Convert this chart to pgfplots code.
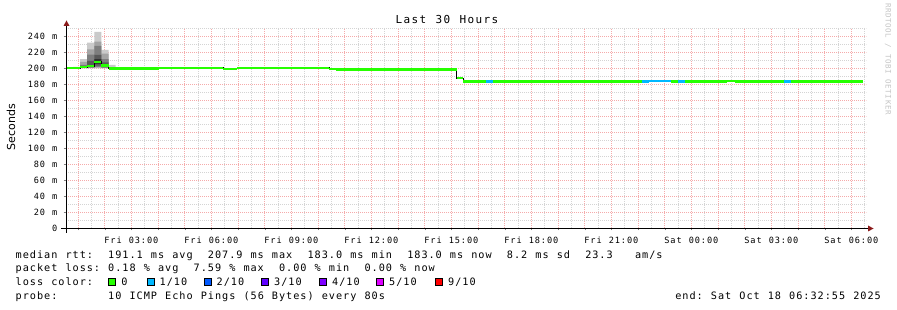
\documentclass[border=0pt]{standalone}
\usepackage{fontspec}
\usepackage{pgfplots}
\pgfplotsset{compat=1.18}
\setmainfont{DejaVu Sans}
\newfontfamily\rrdmono{DejaVu Sans Mono}
\definecolor{mgrid}{HTML}{F5ABAB}
\definecolor{mingrid}{HTML}{D4D4D4}
\definecolor{arrowred}{HTML}{8B1A1A}
\definecolor{loss0}{HTML}{26FF00}
\definecolor{loss1}{HTML}{00B8FF}
\definecolor{loss2}{HTML}{0059FF}
\definecolor{loss3}{HTML}{5E00FF}
\definecolor{loss4}{HTML}{7E00FF}
\definecolor{loss5}{HTML}{DD00FF}
\definecolor{loss9}{HTML}{FF0000}
\definecolor{smokeA}{HTML}{CACACA}
\definecolor{smokeB}{HTML}{A4A4A4}
\definecolor{smokeC}{HTML}{7E7E7E}
\definecolor{smokeD}{HTML}{585858}
\definecolor{smokeE}{HTML}{323232}
\definecolor{wmark}{HTML}{C4C4C4}
\makeatletter
\newcommand\gt[2]{\def\gt@adv{#1}\@tfor\gt@c:=#2\do{\makebox[\gt@adv][c]{\gt@c}}}
\makeatother
\newcommand\xtl[1]{{\rrdmono\fontsize{8.6bp}{10bp}\selectfont\gt{6.1bp}{#1}}}
\newcommand\legtxt[1]{{\rrdmono\fontsize{10.2bp}{12bp}\selectfont\gt{7.12bp}{#1}}}
\newcommand\lossbox[3]{%
  \filldraw[fill=#2, draw=black, line width=1bp] (#1bp+0.5bp,24.5bp) rectangle (#1bp+7.5bp,31bp);
  \node[anchor=base west, inner sep=0pt] at (#1bp+12.5bp,24.3bp) {\legtxt{#3}};}
\tikzset{gridline/.style={line width=1bp, dash pattern=on 1bp off 1bp}}
\begin{document}
\begin{tikzpicture}
\useasboundingbox (0,0) rectangle (897bp,310bp);
% grid (pixel aligned, beneath the axis): minor then major
\foreach \k in {1,...,30} {
  \pgfmathsetmacro\gx{floor(66+(\k+0.5-0.5486)*26.6667)+0.5}
  \draw[gridline, mingrid] (\gx bp,82bp) -- (\gx bp,282bp);
}
\foreach \v in {10,30,...,250} {
  \pgfmathsetmacro\gy{81.5+0.8*\v}
  \draw[gridline, mingrid] (66bp,\gy bp) -- (866bp,\gy bp);
}
\foreach \k in {1,...,30} {
  \pgfmathsetmacro\gx{floor(66+(\k-0.5486)*26.6667)+0.5}
  \draw[gridline, mgrid] (\gx bp,82bp) -- (\gx bp,282bp);
}
\foreach \v in {20,40,...,240} {
  \pgfmathsetmacro\gy{81.5+0.8*\v}
  \draw[gridline, mgrid] (66bp,\gy bp) -- (866bp,\gy bp);
}
\begin{axis}[
  at={(66bp,82bp)}, anchor=south west,
  scale only axis, width=800bp, height=200bp,
  xmin=0.5486, xmax=30.5486, ymin=0, ymax=250,
  axis x line*=bottom, axis y line*=left, axis line style={draw=none},
  xtick={1,2,...,30},
  ytick={0,20,...,240},
  tick align=outside, major tick length=2.5bp,
  xticklabels={{},{},{\xtl{Fri~03:00}},{},{},{\xtl{Fri~06:00}},{},{},{\xtl{Fri~09:00}},{},{},{\xtl{Fri~12:00}},{},{},{\xtl{Fri~15:00}},{},{},{\xtl{Fri~18:00}},{},{},{\xtl{Fri~21:00}},{},{},{\xtl{Sat~00:00}},{},{},{\xtl{Sat~03:00}},{},{},{\xtl{Sat~06:00}}},
  yticklabels={{\xtl{0}},{\xtl{20~m}},{\xtl{40~m}},{\xtl{60~m}},{\xtl{80~m}},{\xtl{100~m}},{\xtl{120~m}},{\xtl{140~m}},{\xtl{160~m}},{\xtl{180~m}},{\xtl{200~m}},{\xtl{220~m}},{\xtl{240~m}}},
  xticklabel style={anchor=base, inner sep=0pt, yshift=-12.9bp},
  yticklabel style={anchor=east, inner sep=0pt, xshift=-5.5bp},
  unbounded coords=jump,
]
% smoke layers (outer to inner)
\addplot[fill=smokeA, draw=none] coordinates {(0.8111,201.5) (1.0774,201.5) (1.0774,211) (1.3436,211) (1.3436,231.6) (1.6099,231.6) (1.6099,245.2) (1.8761,245.2) (1.8761,222.5) (2.1424,222.5) (2.1424,203.8) (2.4086,203.8) (2.4086,198.8) (2.1424,198.8) (2.1424,199.5) (0.8111,199.5)};
\addplot[fill=smokeB, draw=none] coordinates {(0.8111,201.0) (1.0774,201.0) (1.0774,207.5) (1.3436,207.5) (1.3436,223.3) (1.6099,223.3) (1.6099,233.0) (1.8761,233.0) (1.8761,218.0) (2.1424,218.0) (2.1424,201.0) (2.4086,201.0) (2.4086,198.9) (2.1424,198.9) (2.1424,200.0) (1.8761,200.0) (1.8761,200.5) (1.6099,200.5) (1.6099,200.0) (1.0774,200.0) (1.0774,199.8) (0.8111,199.8)};
\addplot[fill=smokeC, draw=none] coordinates {(0.8111,200.6) (1.0774,200.6) (1.0774,204.0) (1.3436,204.0) (1.3436,216.7) (1.6099,216.7) (1.6099,227.5) (1.8761,227.5) (1.8761,211.0) (2.1424,211.0) (2.1424,200.0) (2.4086,200.0) (2.4086,198.95) (2.1424,198.95) (2.1424,200.5) (1.8761,200.5) (1.8761,201.5) (1.6099,201.5) (1.6099,200.5) (1.3436,200.5) (1.3436,200.3) (1.0774,200.3) (1.0774,200.0) (0.8111,200.0)};
\addplot[fill=smokeD, draw=none] coordinates {(0.8111,200.4) (1.0774,200.4) (1.0774,202.5) (1.3436,202.5) (1.3436,209.0) (1.6099,209.0) (1.6099,216.5) (1.8761,216.5) (1.8761,207.0) (2.1424,207.0) (2.1424,199.5) (2.4086,199.5) (2.4086,199.0) (2.1424,199.0) (2.1424,201.0) (1.8761,201.0) (1.8761,203.0) (1.6099,203.0) (1.6099,201.0) (1.3436,201.0) (1.3436,200.6) (1.0774,200.6) (1.0774,200.1) (0.8111,200.1)};
\addplot[fill=smokeE, draw=none] coordinates {(0.8111,200.3) (1.0774,200.3) (1.0774,201.5) (1.3436,201.5) (1.3436,203.5) (1.6099,203.5) (1.6099,211.0) (1.8761,211.0) (1.8761,204.5) (2.1424,204.5) (2.1424,199.2) (2.4086,199.2) (2.4086,199.0) (2.1424,199.0) (2.1424,202.0) (1.8761,202.0) (1.8761,205.0) (1.6099,205.0) (1.6099,201.8) (1.3436,201.8) (1.3436,200.8) (1.0774,200.8) (1.0774,200.2) (0.8111,200.2)};
% median (thin connecting line)
\addplot[const plot, black, line width=0.8bp] coordinates {(0.5486,199.5) (1.0774,201.0) (1.3436,202.5) (1.6099,207.9) (1.8761,203.0) (2.1424,199.3) (4.0375,200.3) (6.4361,199.0) (6.9611,200.3) (10.4111,198.8) (10.6736,198.0) (15.1975,187.0) (15.4361,183.0) (22.4225,184.2) (23.2365,183.0) (25.3245,184.2) (25.6365,183.0) (30.4365,183.0)};
% median coloured by loss: 0
\addplot[loss0, line width=2.2bp] coordinates {(0.5486,199.5) (1.0774,199.5) (1.0774,nan) (1.0774,201.0) (1.3436,201.0) (1.3436,nan) (1.3436,202.5) (1.6099,202.5) (1.6099,nan) (1.6099,207.9) (1.8761,207.9) (1.8761,nan) (1.8761,203.0) (2.1424,203.0) (2.1424,nan) (2.1424,199.3) (4.0375,199.3) (4.0375,nan) (4.0375,200.3) (6.4361,200.3) (6.4361,nan) (6.4361,199.0) (6.9611,199.0) (6.9611,nan) (6.9611,200.3) (10.4111,200.3) (10.4111,nan) (10.4111,198.8) (10.6736,198.8) (10.6736,nan) (10.6736,198.0) (15.1975,198.0) (15.1975,nan) (15.1975,187.0) (15.4361,187.0) (15.4361,nan) (15.4361,183.0) (16.2985,183.0) (16.2985,nan) (16.5615,183.0) (22.1375,183.0) (22.1375,nan) (23.2365,183.0) (23.4875,183.0) (23.4875,nan) (23.7615,183.0) (25.3245,183.0) (25.3245,nan) (25.3245,184.2) (25.6365,184.2) (25.6365,nan) (25.6365,183.0) (27.4735,183.0) (27.4735,nan) (27.7365,183.0) (30.4365,183.0)};
% loss 1/10
\addplot[loss1, line width=2.2bp] coordinates {(16.2985,183.0) (16.5615,183.0) (16.5615,nan) (22.1375,183.0) (22.4225,183.0) (22.4225,nan) (22.4225,184.2) (23.2365,184.2) (23.2365,nan) (23.4875,183.0) (23.7615,183.0) (23.7615,nan) (27.4735,183.0) (27.7365,183.0)};
\end{axis}
% axis lines and arrows
\draw[black, line width=1bp] (61bp,81.5bp) -- (869bp,81.5bp);
\fill[arrowred] (868bp,84.5bp) -- (873.5bp,81.5bp) -- (868bp,78.5bp) -- cycle;
\draw[black, line width=1bp] (66.5bp,77bp) -- (66.5bp,285bp);
\fill[arrowred] (63.5bp,284bp) -- (66.5bp,289.5bp) -- (69.5bp,284bp) -- cycle;
% title, axis label, watermark
\node[anchor=base, inner sep=0pt] at (447bp,286bp) {\rrdmono\fontsize{11bp}{13bp}\selectfont\gt{8bp}{Last~30~Hours}};
\node[rotate=90, inner sep=0pt, font=\fontsize{11bp}{13bp}\selectfont] at (11bp,183bp) {Seconds};
\node[rotate=-90, inner sep=0pt, text=wmark] at (888bp,251bp) {\rrdmono\fontsize{7.5bp}{9bp}\selectfont\gt{5.1bp}{RRDTOOL~/~TOBI~OETIKER}};
% legend
\node[anchor=base west, inner sep=0pt] at (15bp,51.7bp) {\legtxt{median~rtt:~~191.1~ms~avg~~207.9~ms~max~~183.0~ms~min~~183.0~ms~now~~8.2~ms~sd~~23.3~~~am/s}};
\node[anchor=base west, inner sep=0pt] at (15bp,38.2bp) {\legtxt{packet~loss:~0.18~\%~avg~~7.59~\%~max~~0.00~\%~min~~0.00~\%~now}};
\node[anchor=base west, inner sep=0pt] at (15bp,24.3bp) {\legtxt{loss~color:}};
\lossbox{108.3}{loss0}{0}
\lossbox{146.5}{loss1}{1/10}
\lossbox{203.5}{loss2}{2/10}
\lossbox{261}{loss3}{3/10}
\lossbox{319}{loss4}{4/10}
\lossbox{376}{loss5}{5/10}
\lossbox{435}{loss9}{9/10}
\node[anchor=base west, inner sep=0pt] at (15bp,10.5bp) {\legtxt{probe:~~~~~~~10~ICMP~Echo~Pings~(56~Bytes)~every~80s}};
\node[anchor=base east, inner sep=0pt] at (881.5bp,10.5bp) {\legtxt{end:~Sat~Oct~18~06:32:55~2025}};
\end{tikzpicture}
\end{document}
